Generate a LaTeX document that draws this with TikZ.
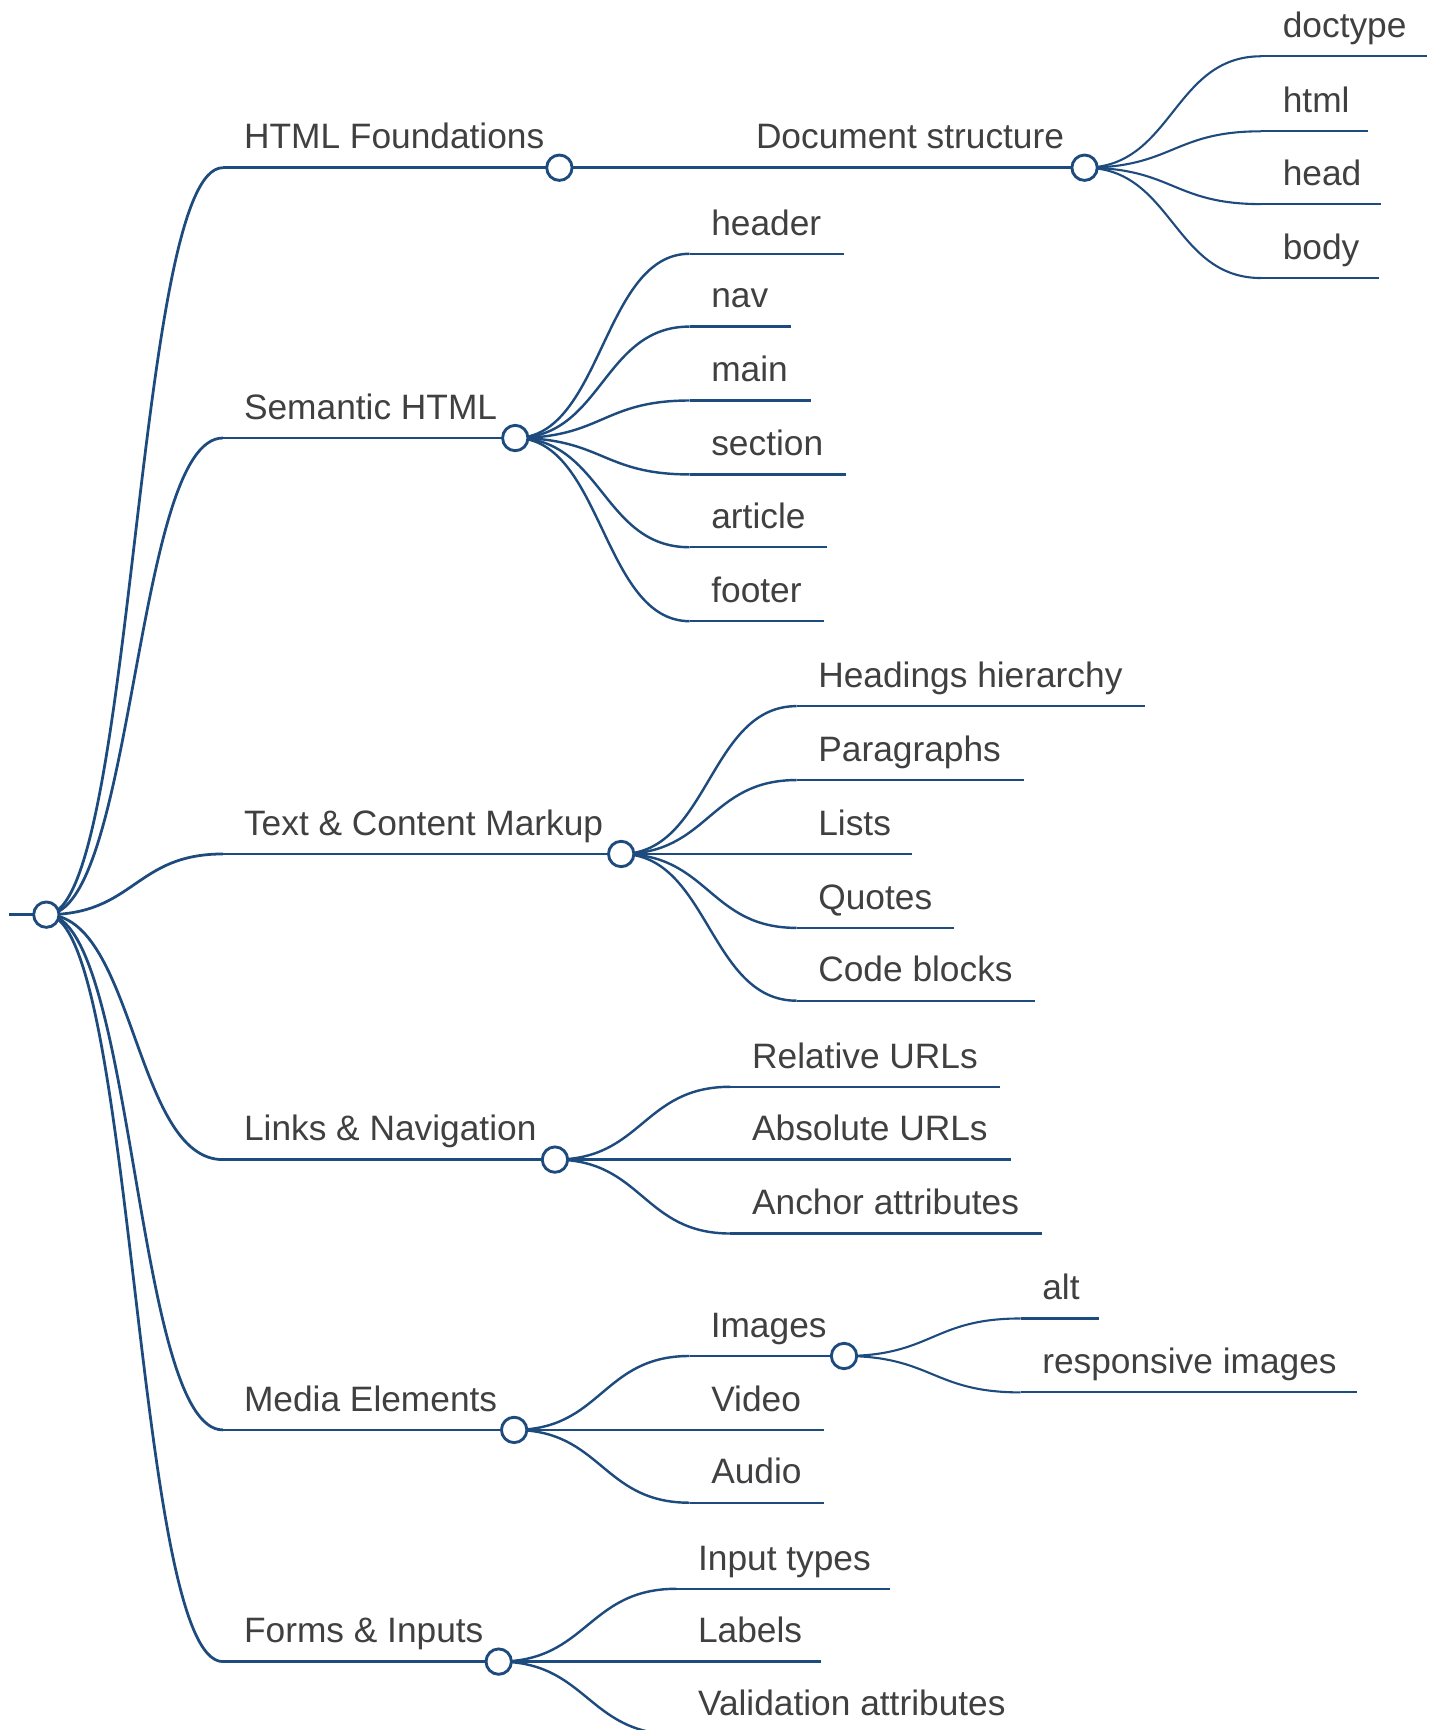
\documentclass[tikz,border=0pt]{standalone}
\usepackage{fontspec}
\setmainfont{Liberation Sans}
\usetikzlibrary{calc}
\pgfdeclarelayer{back}
\pgfsetlayers{back,main}
\definecolor{linkblue}{HTML}{1E4B7D}
\definecolor{labelgray}{HTML}{404040}

\tikzset{
  edge/.style={draw=linkblue, line width=2pt},
  d1/.style={line width=2.5pt},
  d2/.style={line width=2.2pt},
  d3/.style={line width=1.9pt},
  knob/.style={circle, draw=linkblue, fill=white, line width=2.6pt,
    minimum size=23pt, inner sep=0pt},
  lbl/.style={anchor=base west, text=labelgray, inner sep=0pt,
    font=\fontsize{32}{38}\selectfont},
}

% curved link with horizontal tangents at both ends
\newcommand\mlink[3][]{%
  \begin{pgfonlayer}{back}
  \draw[edge,#1] let \p1=(#2.center), \p2=(#3) in
    (\p1) .. controls ({0.5*\x1+0.5*\x2},\y1) and ({0.5*\x1+0.5*\x2},\y2) .. (\p2);
  \end{pgfonlayer}}

% leaf: [style]{name}{parent knob}{x start}{x end}{y}{text}
\newcommand\mleaf[7][]{%
  \coordinate (#2-in) at (#4,#6);
  \coordinate (#2-out) at (#5,#6);
  \mlink[#1]{#3}{#2-in}
  \begin{pgfonlayer}{back}\draw[edge,#1] (#2-in) -- (#2-out);\end{pgfonlayer}
  \node[lbl] (#2) at ({#4+19.5},{#6-17}) {#7};}

% inner topic: [style]{name}{parent knob}{x start}{x knob}{y}{text}
\newcommand\mhub[7][]{%
  \coordinate (#2-in) at (#4,#6);
  \node[knob] (#2-knob) at (#5,#6) {};
  \mlink[#1]{#3}{#2-in}
  \begin{pgfonlayer}{back}\draw[edge,#1] (#2-in) -- (#2-knob.center);\end{pgfonlayer}
  \node[lbl] (#2) at ({#4+19},{#6-17}) {#7};}

\begin{document}
\begin{tikzpicture}[x=1pt,y=-1pt]
\useasboundingbox (0,0) rectangle (1303,1568);
\clip (0,0) rectangle (1303,1568);

% root
\node[knob] (root-knob) at (42,829) {};
\coordinate (stub) at (8,829);
\begin{pgfonlayer}{back}\draw[edge,d1] (stub) -- (root-knob.center);\end{pgfonlayer}

% main topics
\mhub[d1]{found}{root-knob}{202}{507}{152}{HTML Foundations}
\mhub[d1]{sem}{root-knob}{202}{467}{397}{Semantic HTML}
\mhub[d1]{text}{root-knob}{202}{563}{774}{Text \& Content Markup}
\mhub[d1]{links}{root-knob}{202}{503}{1051}{Links \& Navigation}
\mhub[d1]{media}{root-knob}{202}{466}{1296}{Media Elements}
\mhub[d1]{forms}{root-knob}{202}{452}{1506}{Forms \& Inputs}

% HTML Foundations
\mhub[d2]{docs}{found-knob}{666}{983}{152}{Document structure}
\mleaf[d3]{doctype}{docs-knob}{1143}{1293}{51}{doctype}
\mleaf[d3]{html}{docs-knob}{1143}{1240}{119}{html}
\mleaf[d3]{head}{docs-knob}{1143}{1252}{185}{head}
\mleaf[d3]{body}{docs-knob}{1143}{1250}{252}{body}

% Semantic HTML
\mleaf[d2]{header}{sem-knob}{625}{765}{230}{header}
\mleaf[d2]{nav}{sem-knob}{625}{717}{296}{nav}
\mleaf[d2]{main}{sem-knob}{625}{735}{363}{main}
\mleaf[d2]{section}{sem-knob}{625}{767}{430}{section}
\mleaf[d2]{article}{sem-knob}{625}{750}{496}{article}
\mleaf[d2]{footer}{sem-knob}{625}{747}{563}{footer}

% Text & Content Markup
\mleaf[d2]{headings}{text-knob}{722}{1038}{640}{Headings hierarchy}
\mleaf[d2]{paras}{text-knob}{722}{928}{707}{Paragraphs}
\mleaf[d2]{lists}{text-knob}{722}{827}{774}{Lists}
\mleaf[d2]{quotes}{text-knob}{722}{865}{841}{Quotes}
\mleaf[d2]{code}{text-knob}{722}{938}{907}{Code blocks}

% Links & Navigation
\mleaf[d2]{rel}{links-knob}{662}{906}{985}{Relative URLs}
\mleaf[d2]{abs}{links-knob}{662}{916}{1051}{Absolute URLs}
\mleaf[d2]{anchor}{links-knob}{662}{944}{1118}{Anchor attributes}

% Media Elements
\mhub[d2]{images}{media-knob}{625}{765}{1229}{Images}
\mleaf[d2]{video}{media-knob}{625}{747}{1296}{Video}
\mleaf[d2]{audio}{media-knob}{625}{747}{1362}{Audio}
\mleaf[d3]{alt}{images-knob}{925}{996}{1195}{alt}
\mleaf[d3]{resp}{images-knob}{925}{1230}{1262}{responsive images}

% Forms & Inputs
\mleaf[d2]{input}{forms-knob}{613}{807}{1440}{Input types}
\mleaf[d2]{labels}{forms-knob}{613}{744}{1506}{Labels}
\mleaf[d2]{valid}{forms-knob}{613}{930}{1572}{Validation attributes}
\end{tikzpicture}
\end{document}
